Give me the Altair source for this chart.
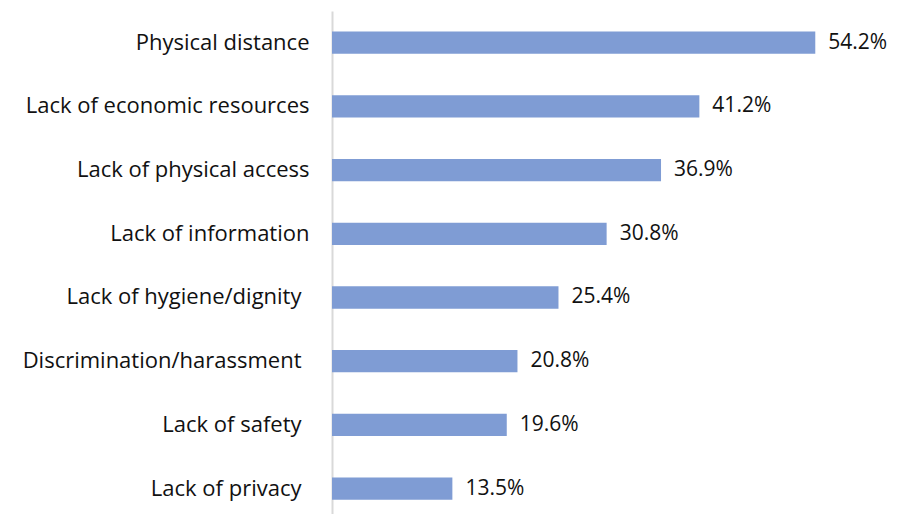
import altair as alt
import pandas as pd

categories = [
    "Physical distance",
    "Lack of economic resources",
    "Lack of physical access",
    "Lack of information",
    "Lack of hygiene/dignity",
    "Discrimination/harassment",
    "Lack of safety",
    "Lack of privacy",
]
values = [54.2, 41.2, 36.9, 30.8, 25.4, 20.8, 19.6, 13.5]
labels = ["54.2%", "41.2%", "36.9%", "30.8%", "25.4%", "20.8%", "19.6%", "13.5%"]

df = pd.DataFrame({"cat": categories, "val": values, "lab": labels})

FONT = "Open Sans"

pad_test = (
    "indexof(['Lack of hygiene/dignity','Discrimination/harassment',"
    "'Lack of safety','Lack of privacy'], datum.value) >= 0"
)

y = alt.Y(
    "cat:N",
    sort=categories,
    scale=alt.Scale(paddingInner=0.65, paddingOuter=0.273, align=0.59),
    axis=alt.Axis(
        title=None,
        ticks=False,
        labelFontSize=22,
        labelFont=FONT,
        labelColor="#111111",
        labelPadding={"condition": {"test": pad_test, "value": 31}, "value": 23},
        domainColor="#d9d9d9",
        domainWidth=2,
        labelLimit=400,
    ),
)
x = alt.X("val:Q", scale=alt.Scale(domain=[0, 60]), axis=None)

bars = alt.Chart(df).mark_bar(color="#7F9CD4").encode(x=x, y=y)
text = alt.Chart(df).mark_text(
    align="left", baseline="middle", dx=13, fontSize=21, font=FONT, color="#111111"
).encode(x=x, y=y, text="lab:N")

chart = (
    alt.layer(bars, text)
    .properties(
        width=535,
        height=503,
        autosize=alt.AutoSizeParams(type="none"),
        padding={"left": 324, "top": 3, "right": 23, "bottom": 0},
    )
    .configure_view(stroke=None)
    .configure_axis(grid=False)
)

chart.save("out.html", embed_options={"renderer": "svg", "actions": False})
